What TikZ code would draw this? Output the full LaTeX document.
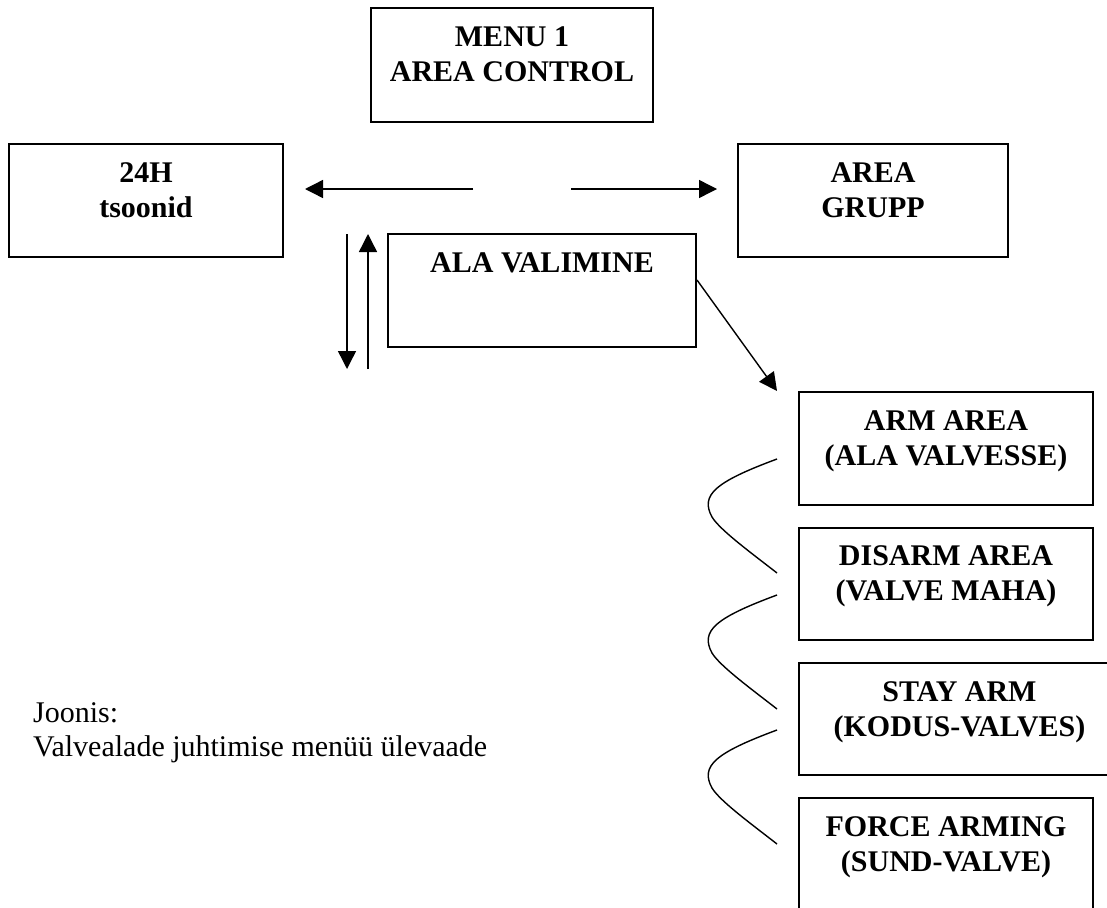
\documentclass[tikz,border=0pt]{standalone}
\usepackage{fontspec}
\setmainfont{Liberation Serif}
\usetikzlibrary{arrows.meta}
\tikzset{
  box/.style={draw, line width=1.6pt, inner sep=0pt},
  btxt/.style={font=\fontsize{30}{35}\selectfont\bfseries, align=center, anchor=base, inner sep=0pt},
  rtxt/.style={font=\fontsize{30}{34}\selectfont, anchor=base west, inner sep=0pt},
  arr/.style={line width=1.4pt, -{Triangle[length=18pt,width=18pt]}},
  wavy/.style={line width=1.4pt},
  wave/.pic={\draw[wavy] (0,0) .. controls (-62,23) and (-77,36) .. (-65,58) .. controls (-57,71) and (-27,93) .. (0,114);}
}
\begin{document}
\begin{tikzpicture}[x=1pt,y=-1pt]
\useasboundingbox (0,0) rectangle (1107,907);
\clip (0,0) rectangle (1107,907);

% boxes
\node[box, minimum width=282pt, minimum height=114pt] (menu)   at (512,65)    {};
\node[box, minimum width=274pt, minimum height=113pt] (h24)    at (146,200.5) {};
\node[box, minimum width=270pt, minimum height=113pt] (grupp)  at (873,200.5) {};
\node[box, minimum width=308pt, minimum height=113pt] (ala)    at (542,290.5) {};
\node[box, minimum width=294pt, minimum height=113pt] (arm)    at (946,448.5) {};
\node[box, minimum width=294pt, minimum height=112pt] (disarm) at (946,584)   {};
\node[box, minimum width=321pt, minimum height=112pt] (stay)   at (959.5,719) {};
\node[box, minimum width=294pt, minimum height=113pt] (force)  at (946,854.5) {};

% box texts (base anchor = baseline of the last line)
\node[btxt] (menuT)   at ([yshift=-74pt]menu.north)   {MENU 1\\AREA CONTROL};
\node[btxt] (h24T)    at ([yshift=-74pt]h24.north)    {24H\\tsoonid};
\node[btxt] (gruppT)  at ([yshift=-74pt]grupp.north)  {AREA\\GRUPP};
\node[btxt] (alaT)    at ([yshift=-39pt]ala.north)    {ALA VALIMINE};
\node[btxt] (armT)    at ([yshift=-74pt]arm.north)    {ARM AREA\\(ALA VALVESSE)};
\node[btxt] (disarmT) at ([yshift=-73pt]disarm.north) {DISARM AREA\\(VALVE MAHA)};
\node[btxt] (stayT)   at ([yshift=-74pt]stay.north)   {STAY ARM\\(KODUS-VALVES)};
\node[btxt] (forceT)  at ([yshift=-74pt]force.north)  {FORCE ARMING\\(SUND-VALVE)};

% connector end points
\coordinate (lA) at (473,189);
\coordinate (lB) at (305,189);
\coordinate (rA) at (571,189);
\coordinate (rB) at (717,189);
\coordinate (dA) at (347,234);
\coordinate (dB) at (347,369);
\coordinate (uA) at (368,369);
\coordinate (uB) at (368,234);
\coordinate (gA) at (697,280);
\coordinate (gB) at (777,391);

\draw[arr] (lA) -- (lB);
\draw[arr] (rA) -- (rB);
\draw[arr] (dA) -- (dB);
\draw[arr] (uA) -- (uB);
\draw[arr] (gA) -- (gB);

% wavy links
\pic at (777,459) {wave};
\pic at (777,595) {wave};
\pic at (777,730) {wave};

% caption
\node[rtxt] (cap1) at (33,722) {Joonis:};
\node[rtxt] (cap2) at (33,756) {Valvealade juhtimise menüü ülevaade};
\end{tikzpicture}
\end{document}
